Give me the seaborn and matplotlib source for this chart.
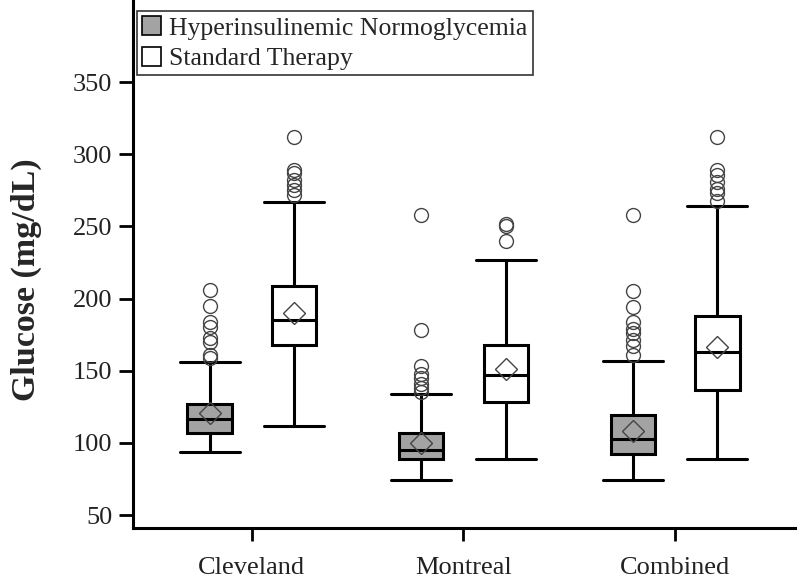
import matplotlib
matplotlib.use("Agg")
import matplotlib.pyplot as plt
import seaborn as sns
from matplotlib.patches import Patch

sns.set_style("ticks")
plt.rcParams['font.family'] = ['Liberation Serif', 'DejaVu Serif']

sites = ["Cleveland", "Montreal", "Combined"]
groups = ["Hyperinsulinemic Normoglycemia", "Standard Therapy"]

# per site: [hyper, standard]
whislo = [[94, 112], [74, 89], [74, 89]]
q1 = [[107, 168], [89, 128.5], [92, 137]]
med = [[116.5, 185], [95, 147], [103, 163]]
q3 = [[127, 209], [107, 168], [119, 188]]
whishi = [[156, 267], [134, 227], [157, 264]]
means = [[120.5, 190], [100, 151], [108, 166.5]]
fliers = [
    [[159, 161, 170, 173, 180, 184, 195, 206],
     [272, 275, 279, 282, 287, 289, 312]],
    [[135, 138, 141, 145, 148, 153, 178, 258],
     [240, 250, 252]],
    [[161, 167, 171, 176, 179, 184, 194, 205, 258],
     [268, 273, 276, 281, 286, 289, 312]],
]

fills = ["#a3a3a3", "#ffffff"]
offsets = [-0.2, 0.2]
box_w = 0.21

fig = plt.figure(figsize=(8, 5.82), dpi=100)
ax = fig.add_axes([133 / 800, 54 / 582, 662 / 800, 528 / 582])

for g in range(2):
    stats = []
    for s in range(3):
        stats.append(dict(whislo=whislo[s][g], q1=q1[s][g], med=med[s][g],
                          q3=q3[s][g], whishi=whishi[s][g], mean=means[s][g],
                          fliers=fliers[s][g]))
    pos = [i + offsets[g] for i in range(3)]
    ax.bxp(stats, positions=pos, widths=box_w, showmeans=True, patch_artist=True,
           manage_ticks=False,
           boxprops=dict(facecolor=fills[g], edgecolor="black", linewidth=2.2),
           medianprops=dict(color="black", linewidth=2.2),
           whiskerprops=dict(color="black", linewidth=2.2),
           capprops=dict(color="black", linewidth=2.2),
           capwidths=box_w * 1.35,
           flierprops=dict(marker="o", markerfacecolor="none", markeredgecolor="#444444",
                           markersize=10, markeredgewidth=1.0),
           meanprops=dict(marker="D", markerfacecolor="none", markeredgecolor="#444444",
                          markersize=11.5, markeredgewidth=1.0))

ax.set_xlim(-0.562, 2.567)
ax.set_ylim(41, 407)
ax.set_xticks(range(3))
ax.set_xticklabels(sites, fontsize=19)
ax.set_yticks([50, 100, 150, 200, 250, 300, 350])
ax.tick_params(axis="y", labelsize=19, length=10, width=2, direction="out", pad=5, colors="black")
ax.tick_params(axis="x", length=9, width=2, direction="out", pad=12, colors="black")
for lab in ax.get_xticklabels() + ax.get_yticklabels():
    lab.set_color("#222222")
ax.set_ylabel("Glucose (mg/dL)", fontsize=24.5, fontweight="bold")
ax.yaxis.set_label_coords(-0.138, 0.47)
for sp in ["top", "right"]:
    ax.spines[sp].set_visible(False)
for sp in ["left", "bottom"]:
    ax.spines[sp].set_linewidth(2.2)
    ax.spines[sp].set_color("black")

handles = [Patch(facecolor=fills[0], edgecolor="black", linewidth=1.2),
           Patch(facecolor=fills[1], edgecolor="black", linewidth=1.2)]
leg = fig.legend(handles, groups, loc="upper left",
                 bbox_to_anchor=(137 / 800, 1 - 11 / 582), fontsize=18.5,
                 frameon=True, fancybox=False, borderpad=0.2, labelspacing=0.28,
                 handlelength=0.75, handleheight=0.75, handletextpad=0.3,
                 borderaxespad=0)
leg.get_frame().set_edgecolor("black")
leg.get_frame().set_linewidth(1.2)

fig.savefig("out.png", dpi=100)
